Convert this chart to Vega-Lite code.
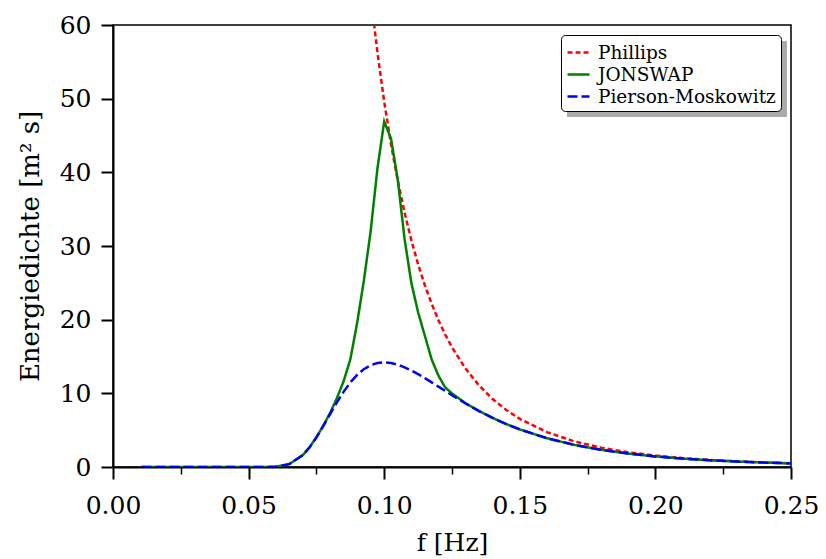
{
  "$schema": "https://vega.github.io/schema/vega-lite/v6.json",
  "width": 678,
  "height": 442,
  "autosize": {"type": "none"},
  "padding": {"left": 113, "top": 25, "right": 35, "bottom": 92},
  "background": "white",
  "config": {
    "font": "DejaVu Serif",
    "view": {"stroke": "black", "strokeWidth": 1.5},
    "axis": {
      "grid": false,
      "domainColor": "black",
      "domainWidth": 2,
      "tickColor": "black",
      "labelColor": "black",
      "titleColor": "black",
      "labelFont": "DejaVu Serif",
      "titleFont": "DejaVu Serif",
      "labelFontSize": 25,
      "titleFontSize": 25,
      "titleFontWeight": "normal",
      "labelFlush": false,
      "labelOverlap": false
    }
  },
  "layer": [
    {
      "data": {
        "values": [
          {"series": "Phillips", "f": 0.09, "S": 84.0},
          {"series": "Phillips", "f": 0.0925, "S": 73.24},
          {"series": "Phillips", "f": 0.095, "S": 64.1},
          {"series": "Phillips", "f": 0.0975, "S": 56.29},
          {"series": "Phillips", "f": 0.1, "S": 49.6},
          {"series": "Phillips", "f": 0.1025, "S": 43.84},
          {"series": "Phillips", "f": 0.105, "S": 38.86},
          {"series": "Phillips", "f": 0.1075, "S": 34.55},
          {"series": "Phillips", "f": 0.11, "S": 30.8},
          {"series": "Phillips", "f": 0.1125, "S": 27.52},
          {"series": "Phillips", "f": 0.115, "S": 24.66},
          {"series": "Phillips", "f": 0.1175, "S": 22.15},
          {"series": "Phillips", "f": 0.12, "S": 19.93},
          {"series": "Phillips", "f": 0.1225, "S": 17.98},
          {"series": "Phillips", "f": 0.125, "S": 16.25},
          {"series": "Phillips", "f": 0.13, "S": 13.36},
          {"series": "Phillips", "f": 0.135, "S": 11.06},
          {"series": "Phillips", "f": 0.14, "S": 9.22},
          {"series": "Phillips", "f": 0.145, "S": 7.74},
          {"series": "Phillips", "f": 0.15, "S": 6.53},
          {"series": "Phillips", "f": 0.16, "S": 4.73},
          {"series": "Phillips", "f": 0.17, "S": 3.49},
          {"series": "Phillips", "f": 0.18, "S": 2.62},
          {"series": "Phillips", "f": 0.19, "S": 2.0},
          {"series": "Phillips", "f": 0.2, "S": 1.55},
          {"series": "Phillips", "f": 0.21, "S": 1.21},
          {"series": "Phillips", "f": 0.22, "S": 0.96},
          {"series": "Phillips", "f": 0.23, "S": 0.77},
          {"series": "Phillips", "f": 0.24, "S": 0.62},
          {"series": "Phillips", "f": 0.25, "S": 0.51},

          {"series": "JONSWAP", "f": 0.0105, "S": 0},
          {"series": "JONSWAP", "f": 0.015, "S": 0},
          {"series": "JONSWAP", "f": 0.02, "S": 0},
          {"series": "JONSWAP", "f": 0.025, "S": 0},
          {"series": "JONSWAP", "f": 0.03, "S": 0},
          {"series": "JONSWAP", "f": 0.035, "S": 0},
          {"series": "JONSWAP", "f": 0.04, "S": 0},
          {"series": "JONSWAP", "f": 0.045, "S": 0},
          {"series": "JONSWAP", "f": 0.05, "S": 0},
          {"series": "JONSWAP", "f": 0.055, "S": 0.001},
          {"series": "JONSWAP", "f": 0.06, "S": 0.041},
          {"series": "JONSWAP", "f": 0.065, "S": 0.389},
          {"series": "JONSWAP", "f": 0.07, "S": 1.618},
          {"series": "JONSWAP", "f": 0.0725, "S": 2.686},
          {"series": "JONSWAP", "f": 0.075, "S": 4.03},
          {"series": "JONSWAP", "f": 0.0775, "S": 5.586},
          {"series": "JONSWAP", "f": 0.08, "S": 7.302},
          {"series": "JONSWAP", "f": 0.0825, "S": 9.3},
          {"series": "JONSWAP", "f": 0.085, "S": 11.6},
          {"series": "JONSWAP", "f": 0.0875, "S": 14.6},
          {"series": "JONSWAP", "f": 0.09, "S": 19.5},
          {"series": "JONSWAP", "f": 0.0925, "S": 25.3},
          {"series": "JONSWAP", "f": 0.095, "S": 32.0},
          {"series": "JONSWAP", "f": 0.0975, "S": 40.5},
          {"series": "JONSWAP", "f": 0.1, "S": 46.9},
          {"series": "JONSWAP", "f": 0.1025, "S": 44.6},
          {"series": "JONSWAP", "f": 0.105, "S": 39.0},
          {"series": "JONSWAP", "f": 0.1075, "S": 31.0},
          {"series": "JONSWAP", "f": 0.11, "S": 25.0},
          {"series": "JONSWAP", "f": 0.1125, "S": 21.0},
          {"series": "JONSWAP", "f": 0.115, "S": 17.8},
          {"series": "JONSWAP", "f": 0.1175, "S": 14.6},
          {"series": "JONSWAP", "f": 0.12, "S": 12.4},
          {"series": "JONSWAP", "f": 0.1225, "S": 10.8},
          {"series": "JONSWAP", "f": 0.125, "S": 9.99},
          {"series": "JONSWAP", "f": 0.13, "S": 8.664},
          {"series": "JONSWAP", "f": 0.135, "S": 7.597},
          {"series": "JONSWAP", "f": 0.14, "S": 6.661},
          {"series": "JONSWAP", "f": 0.145, "S": 5.832},
          {"series": "JONSWAP", "f": 0.15, "S": 5.103},
          {"series": "JONSWAP", "f": 0.16, "S": 3.909},
          {"series": "JONSWAP", "f": 0.17, "S": 3.008},
          {"series": "JONSWAP", "f": 0.18, "S": 2.33},
          {"series": "JONSWAP", "f": 0.19, "S": 1.82},
          {"series": "JONSWAP", "f": 0.2, "S": 1.434},
          {"series": "JONSWAP", "f": 0.21, "S": 1.139},
          {"series": "JONSWAP", "f": 0.22, "S": 0.912},
          {"series": "JONSWAP", "f": 0.23, "S": 0.737},
          {"series": "JONSWAP", "f": 0.24, "S": 0.6},
          {"series": "JONSWAP", "f": 0.25, "S": 0.492},

          {"series": "Pierson-Moskowitz", "f": 0.0105, "S": 0},
          {"series": "Pierson-Moskowitz", "f": 0.015, "S": 0},
          {"series": "Pierson-Moskowitz", "f": 0.02, "S": 0},
          {"series": "Pierson-Moskowitz", "f": 0.025, "S": 0},
          {"series": "Pierson-Moskowitz", "f": 0.03, "S": 0},
          {"series": "Pierson-Moskowitz", "f": 0.035, "S": 0},
          {"series": "Pierson-Moskowitz", "f": 0.04, "S": 0},
          {"series": "Pierson-Moskowitz", "f": 0.045, "S": 0},
          {"series": "Pierson-Moskowitz", "f": 0.05, "S": 0},
          {"series": "Pierson-Moskowitz", "f": 0.055, "S": 0.001},
          {"series": "Pierson-Moskowitz", "f": 0.06, "S": 0.041},
          {"series": "Pierson-Moskowitz", "f": 0.065, "S": 0.389},
          {"series": "Pierson-Moskowitz", "f": 0.07, "S": 1.618},
          {"series": "Pierson-Moskowitz", "f": 0.0725, "S": 2.685},
          {"series": "Pierson-Moskowitz", "f": 0.075, "S": 4.022},
          {"series": "Pierson-Moskowitz", "f": 0.0775, "S": 5.548},
          {"series": "Pierson-Moskowitz", "f": 0.08, "S": 7.156},
          {"series": "Pierson-Moskowitz", "f": 0.0825, "S": 8.737},
          {"series": "Pierson-Moskowitz", "f": 0.085, "S": 10.196},
          {"series": "Pierson-Moskowitz", "f": 0.0875, "S": 11.464},
          {"series": "Pierson-Moskowitz", "f": 0.09, "S": 12.499},
          {"series": "Pierson-Moskowitz", "f": 0.0925, "S": 13.281},
          {"series": "Pierson-Moskowitz", "f": 0.095, "S": 13.815},
          {"series": "Pierson-Moskowitz", "f": 0.0975, "S": 14.117},
          {"series": "Pierson-Moskowitz", "f": 0.1, "S": 14.211},
          {"series": "Pierson-Moskowitz", "f": 0.1025, "S": 14.127},
          {"series": "Pierson-Moskowitz", "f": 0.105, "S": 13.897},
          {"series": "Pierson-Moskowitz", "f": 0.1075, "S": 13.52},
          {"series": "Pierson-Moskowitz", "f": 0.11, "S": 13.114},
          {"series": "Pierson-Moskowitz", "f": 0.1125, "S": 12.613},
          {"series": "Pierson-Moskowitz", "f": 0.115, "S": 12.067},
          {"series": "Pierson-Moskowitz", "f": 0.1175, "S": 11.494},
          {"series": "Pierson-Moskowitz", "f": 0.12, "S": 10.909},
          {"series": "Pierson-Moskowitz", "f": 0.1225, "S": 10.321},
          {"series": "Pierson-Moskowitz", "f": 0.125, "S": 9.74},
          {"series": "Pierson-Moskowitz", "f": 0.13, "S": 8.624},
          {"series": "Pierson-Moskowitz", "f": 0.135, "S": 7.592},
          {"series": "Pierson-Moskowitz", "f": 0.14, "S": 6.661},
          {"series": "Pierson-Moskowitz", "f": 0.145, "S": 5.832},
          {"series": "Pierson-Moskowitz", "f": 0.15, "S": 5.103},
          {"series": "Pierson-Moskowitz", "f": 0.16, "S": 3.909},
          {"series": "Pierson-Moskowitz", "f": 0.17, "S": 3.008},
          {"series": "Pierson-Moskowitz", "f": 0.18, "S": 2.33},
          {"series": "Pierson-Moskowitz", "f": 0.19, "S": 1.82},
          {"series": "Pierson-Moskowitz", "f": 0.2, "S": 1.434},
          {"series": "Pierson-Moskowitz", "f": 0.21, "S": 1.139},
          {"series": "Pierson-Moskowitz", "f": 0.22, "S": 0.912},
          {"series": "Pierson-Moskowitz", "f": 0.23, "S": 0.737},
          {"series": "Pierson-Moskowitz", "f": 0.24, "S": 0.6},
          {"series": "Pierson-Moskowitz", "f": 0.25, "S": 0.492}
        ]
      },
      "mark": {"type": "line", "strokeWidth": 2.5, "clip": true},
      "encoding": {
        "x": {
          "field": "f",
          "type": "quantitative",
          "scale": {"domain": [0, 0.25], "nice": false, "zero": false},
          "axis": {
            "values": [0, 0.025, 0.05, 0.075, 0.1, 0.125, 0.15, 0.175, 0.2, 0.225, 0.25],
            "labelExpr": "round(datum.value*1000) % 50 === 0 ? format(datum.value, '.2f') : ''",
            "tickSize": {"condition": {"test": "round(datum.value*1000) % 50 === 0", "value": 12}, "value": 7},
            "tickWidth": {"condition": {"test": "round(datum.value*1000) % 50 === 0", "value": 2}, "value": 1.5},
            "labelPadding": 14,
            "title": "f [Hz]",
            "titlePadding": 12
          }
        },
        "y": {
          "field": "S",
          "type": "quantitative",
          "scale": {"domain": [0, 60], "nice": false},
          "axis": {
            "values": [0, 5, 10, 15, 20, 25, 30, 35, 40, 45, 50, 55, 60],
            "labelExpr": "datum.value % 10 === 0 ? format(datum.value, 'd') : ''",
            "tickSize": {"condition": {"test": "datum.value % 10 === 0", "value": 12}, "value": 7},
            "tickWidth": {"condition": {"test": "datum.value % 10 === 0", "value": 2}, "value": 1.5},
            "labelPadding": 10,
            "title": "Energiedichte [m²  s]",
            "titleFontSize": 26,
            "titlePadding": 16
          }
        },
        "color": {
          "field": "series",
          "type": "nominal",
          "sort": null,
          "scale": {"domain": ["Phillips", "JONSWAP", "Pierson-Moskowitz"], "range": ["#ff0000", "#008000", "#0000ff"]},
          "legend": {
            "orient": "none",
            "legendX": 448,
            "legendY": 10,
            "title": null,
            "fillColor": "white",
            "strokeColor": "black",
            "cornerRadius": 4,
            "padding": 5,
            "labelFont": "DejaVu Serif",
            "labelFontSize": 18.5,
            "labelColor": "black",
            "labelLimit": 0,
            "symbolType": "stroke",
            "symbolSize": 484,
            "symbolStrokeWidth": 2.5,
            "rowPadding": 0,
            "labelOffset": 7,
            "zindex": 2
          }
        },
        "strokeDash": {
          "field": "series",
          "type": "nominal",
          "sort": null,
          "scale": {"domain": ["Phillips", "JONSWAP", "Pierson-Moskowitz"], "range": [[5, 3], [1, 0], [10, 4]]}
        }
      }
    },
    {
      "data": {"values": [{"v": 0}, {"v": 1}]},
      "mark": {"type": "point", "opacity": 0},
      "encoding": {
        "x": {"datum": 0.2},
        "y": {"datum": 30},
        "fill": {
          "field": "v",
          "type": "quantitative",
          "scale": {"domain": [0, 1], "range": ["#aaaaaa", "#aaaaaa"]},
          "legend": {
            "orient": "none",
            "legendX": 454,
            "legendY": 16,
            "title": null,
            "direction": "vertical",
            "gradientLength": 76,
            "gradientThickness": 220,
            "gradientStrokeColor": "#aaaaaa",
            "gradientStrokeWidth": 0,
            "padding": 0,
            "labelExpr": "''",
            "labelOffset": 0,
            "zindex": 1
          }
        }
      }
    }
  ]
}
